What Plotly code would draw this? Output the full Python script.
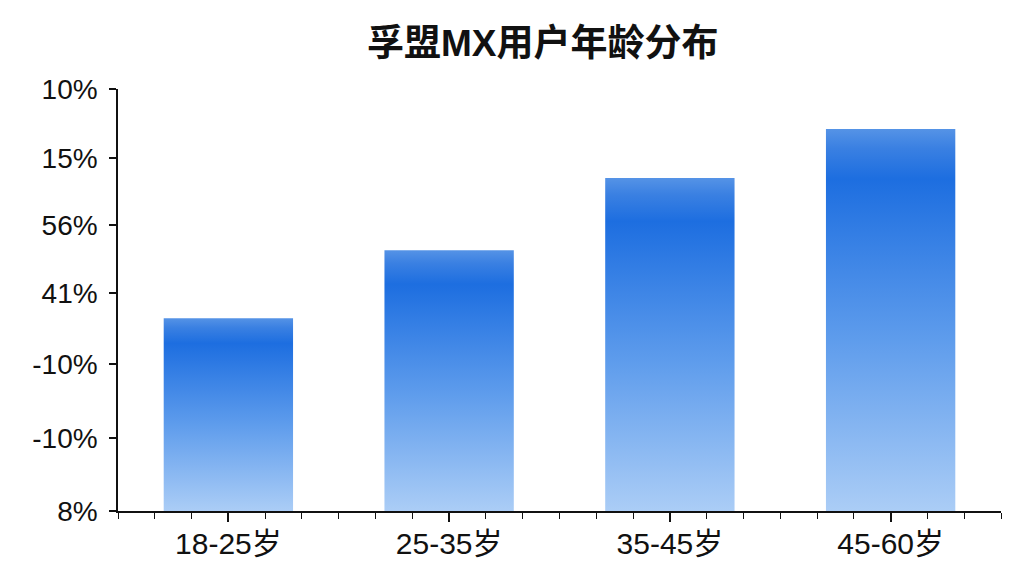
import plotly.graph_objects as go

# DATA
categories = ["18-25岁", "25-35岁", "35-45岁", "45-60岁"]
bar_values = [45.7, 61.8, 78.9, 90.5]
y_tick_vals = [0, 17.3, 34.8, 51.7, 67.8, 83.6, 100]
y_tick_text = ["8%", "-10%", "-10%", "41%", "56%", "15%", "10%"]

BAR_WIDTH = 0.586
FONT = "Liberation Sans, Arial, Noto Sans CJK SC, sans-serif"

# vertical gradient, 0 = bottom of bar, 1 = top of bar
gradient = [
    [0.0, "#abcdf6"],
    [0.45, "#5e9cec"],
    [0.87, "#1d6ee0"],
    [0.95, "#3a80e2"],
    [1.0, "#5593e6"],
]

fig = go.Figure()

for i, (cat, val) in enumerate(zip(categories, bar_values)):
    x0 = i - BAR_WIDTH / 2
    x1 = i + BAR_WIDTH / 2
    fig.add_trace(
        go.Scatter(
            x=[x0, x0, x1, x1, x0],
            y=[0, val, val, 0, 0],
            mode="lines",
            fill="toself",
            line_width=0,
            fillgradient=dict(type="vertical", colorscale=gradient),
            name=cat,
            showlegend=False,
            hoverinfo="skip",
        )
    )

fig.update_xaxes(
    range=[-0.5, 3.5],
    tickvals=list(range(len(categories))),
    ticktext=categories,
    tickfont=dict(family=FONT, size=30, color="#111111"),
    ticks="outside",
    ticklen=9,
    tickwidth=1.5,
    tickcolor="#111111",
    ticklabelstandoff=-4,
    minor=dict(tick0=-0.5, dtick=1 / 6, ticks="outside", ticklen=6, tickwidth=1.2, tickcolor="#111111"),
    showline=True,
    linewidth=1.5,
    linecolor="#111111",
    showgrid=False,
    zeroline=False,
    fixedrange=True,
)

fig.update_yaxes(
    range=[0, 100],
    tickvals=y_tick_vals,
    ticktext=y_tick_text,
    tickfont=dict(family=FONT, size=28, color="#111111"),
    ticks="outside",
    ticklen=7,
    tickwidth=1.5,
    tickcolor="#111111",
    ticklabelstandoff=6,
    showline=True,
    linewidth=1.5,
    linecolor="#111111",
    showgrid=False,
    zeroline=False,
    fixedrange=True,
)

fig.update_layout(
    width=1024,
    height=576,
    plot_bgcolor="white",
    paper_bgcolor="white",
    margin=dict(l=118, r=23, t=89, b=65),
    title=dict(
        text="<b>孚盟MX用户年龄分布</b>",
        font=dict(family=FONT, size=37, color="#111111"),
        x=0.53,
        xref="container",
        xanchor="center",
        y=0.925,
        yref="container",
        yanchor="middle",
    ),
)

fig.write_html(
    "out.html",
    config={"displayModeBar": False},
    post_script="document.body.style.margin = '0';",
)
